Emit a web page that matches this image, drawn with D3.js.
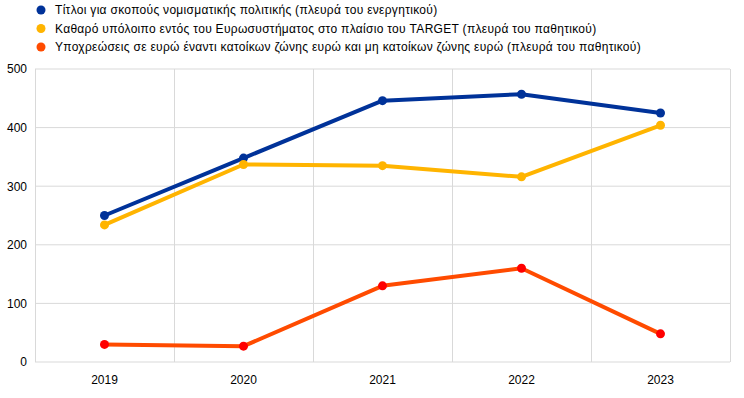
<!DOCTYPE html>
<html>
<head>
<meta charset="utf-8">
<script src="https://cdnjs.cloudflare.com/ajax/libs/d3/7.8.5/d3.min.js"></script>
<style>
  body { margin: 0; background: #fff; }
  svg text { font-family: "Liberation Sans", Arial, sans-serif; fill: #000; }
</style>
</head>
<body>
<svg id="chart" width="744" height="398"></svg>
<script>
// data
var years = ["2019", "2020", "2021", "2022", "2023"];
var titloi = [250, 348, 446, 457, 425];
var target = [234, 337, 335, 316, 404];
var ypoxreoseis = [30, 27, 130, 160, 48];
var yTicks = [0, 100, 200, 300, 400, 500];
var seriesNames = [
    "Τίτλοι για σκοπούς νομισματικής πολιτικής (πλευρά του ενεργητικού)",
    "Καθαρό υπόλοιπο εντός του Ευρωσυστήματος  στο πλαίσιο του TARGET (πλευρά του παθητικού)",
    "Υποχρεώσεις σε ευρώ έναντι κατοίκων ζώνης ευρώ και μη κατοίκων ζώνης ευρώ (πλευρά του παθητικού)"
];

var series = [
    { name: seriesNames[0], values: titloi, color: "#003299", marker: "#003299" },
    { name: seriesNames[1], values: target, color: "#ffb400", marker: "#ffb400" },
    { name: seriesNames[2], values: ypoxreoseis, color: "#ff4b00", marker: "#ff0000" }
];

var margin = { top: 69, right: 14, bottom: 36, left: 35 };
var width = 744 - margin.left - margin.right,
    height = 398 - margin.top - margin.bottom;

var svg = d3.select("#chart");

var g = svg.append("g")
    .attr("transform", "translate(" + margin.left + "," + margin.top + ")");

var x = d3.scaleBand()
    .domain(years)
    .range([0, width]);

var y = d3.scaleLinear()
    .domain([0, 500])
    .range([height, 0]);

// horizontal grid
g.selectAll(".hgrid")
    .data(yTicks)
    .enter()
    .append("line")
    .attr("x1", 0)
    .attr("x2", width)
    .attr("y1", d => y(d))
    .attr("y2", d => y(d))
    .attr("stroke", "#d9d9d9")
    .attr("stroke-width", 1);

// vertical grid at band edges
var edges = years.map(d => x(d)).concat([width]);
g.selectAll(".vgrid")
    .data(edges)
    .enter()
    .append("line")
    .attr("x1", d => Math.round(d) + 0.5)
    .attr("x2", d => Math.round(d) + 0.5)
    .attr("y1", 0)
    .attr("y2", height)
    .attr("stroke", "#d9d9d9")
    .attr("stroke-width", 1);

// y axis labels
var yAxis = d3.axisLeft(y)
    .tickValues(yTicks)
    .tickSize(0)
    .tickPadding(8);

g.append("g")
    .call(yAxis)
    .call(a => a.select(".domain").remove())
    .selectAll("text")
    .style("font-size", "12px");

// x axis labels
var xAxis = d3.axisBottom(x)
    .tickSize(0)
    .tickPadding(13);

g.append("g")
    .attr("transform", "translate(0," + height + ")")
    .call(xAxis)
    .call(a => a.select(".domain").remove())
    .selectAll("text")
    .style("font-size", "12px");

// lines
var line = d3.line()
    .x((d, i) => x(years[i]) + x.bandwidth() / 2)
    .y(d => y(d));

series.forEach(function (s) {
    g.append("path")
        .datum(s.values)
        .attr("d", line)
        .attr("fill", "none")
        .attr("stroke", s.color)
        .attr("stroke-width", 4)
        .attr("stroke-linejoin", "round");

    g.selectAll(null)
        .data(s.values)
        .enter()
        .append("circle")
        .attr("cx", (d, i) => x(years[i]) + x.bandwidth() / 2)
        .attr("cy", d => y(d))
        .attr("r", 4.5)
        .attr("fill", s.marker);
});

// legend
var legend = svg.append("g")
    .attr("transform", "translate(41,10)");

var items = legend.selectAll("g")
    .data(series)
    .enter()
    .append("g")
    .attr("transform", (d, i) => "translate(0," + (i * 18.5) + ")");

items.append("circle")
    .attr("r", 4.5)
    .attr("fill", d => d.color);

items.append("text")
    .attr("x", 14)
    .attr("dy", "0.35em")
    .style("font-size", "12px")
    .style("letter-spacing", "0.3px")
    .text(d => d.name);
</script>
</body>
</html>
